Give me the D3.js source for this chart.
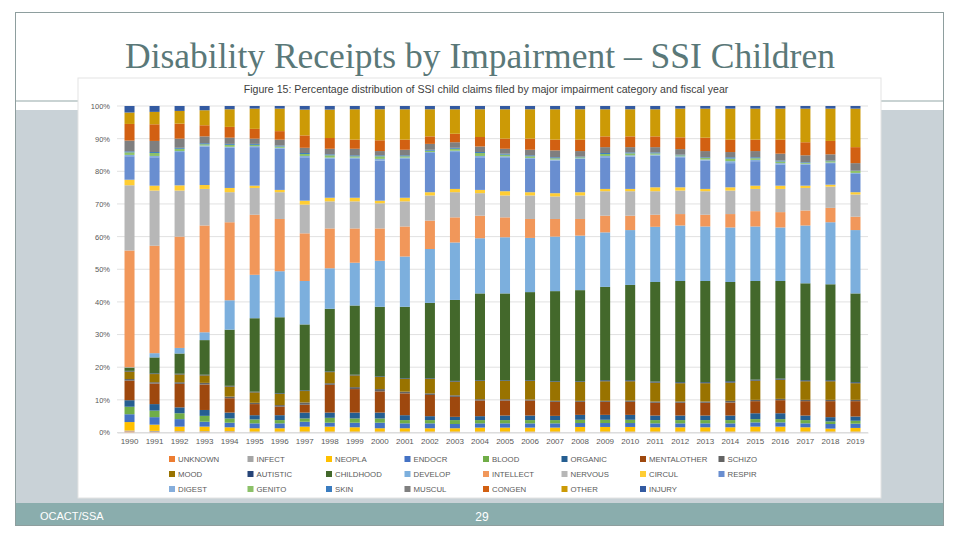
<!DOCTYPE html>
<html><head><meta charset="utf-8">
<script src="https://cdn.jsdelivr.net/npm/d3@7/dist/d3.min.js"></script>
<style>body{margin:0;background:#fff}svg{display:block}</style>
</head><body><svg id="c" width="960" height="540"></svg>
<script>
// ---------------- DATA ----------------
const years = ["1990","1991","1992","1993","1994","1995","1996","1997","1998","1999",
  "2000","2001","2002","2003","2004","2005","2006","2007","2008","2009",
  "2010","2011","2012","2013","2014","2015","2016","2017","2018","2019"];
const categories = ["UNKNOWN","INFECT","NEOPLA","ENDOCR","BLOOD","ORGANIC","MENTALOTHER","SCHIZO",
  "MOOD","AUTISTIC","CHILDHOOD","DEVELOP","INTELLECT","NERVOUS","CIRCUL","RESPIR",
  "DIGEST","GENITO","SKIN","MUSCUL","CONGEN","OTHER","INJURY"];
const UNKNOWN     = [0.3,0.2,0.2,0.2,0.2,0.1,0.1,0.1,0.1,0.1,0.1,0.1,0.1,0.1,0.1,0.1,0.1,0.1,0.1,0.1,0.1,0.1,0.1,0.1,0.1,0.1,0.1,0.1,0.1,0.1];
const INFECT      = [0.3,0.3,0.2,0.2,0.2,0.2,0.2,0.2,0.2,0.2,0.2,0.2,0.2,0.2,0.2,0.2,0.2,0.2,0.2,0.2,0.2,0.2,0.2,0.2,0.2,0.2,0.2,0.2,0.2,0.2];
const NEOPLA      = [2.6,1.9,1.4,1.4,1.2,1.0,1.0,1.5,1.5,1.3,1.0,1.0,1.0,1.0,1.2,1.2,1.2,1.2,1.4,1.4,1.4,1.3,1.3,1.3,1.3,1.5,1.5,1.3,0.9,1.1];
const ENDOCR      = [2.4,2.3,2.3,1.5,1.4,1.5,1.5,1.5,1.2,1.4,1.7,1.5,1.5,1.3,1.3,1.3,1.3,1.3,1.2,1.2,1.2,1.2,1.2,1.2,1.2,1.3,1.3,1.2,1.4,1.3];
const BLOOD       = [2.3,2.0,1.8,1.8,1.3,1.2,1.0,1.0,1.5,1.3,1.3,1.0,1.0,1.2,1.0,1.0,1.0,1.0,1.0,1.0,1.0,1.0,1.0,1.0,1.0,1.0,1.0,1.0,0.8,0.9];
const ORGANIC     = [2.0,2.0,1.8,1.8,1.8,1.3,1.5,1.8,1.6,1.8,1.8,1.5,1.2,1.0,1.2,1.4,1.4,1.3,1.5,1.5,1.5,1.4,1.4,1.4,1.4,1.8,1.8,1.4,1.3,1.3];
const MENTALOTHER = [6.0,6.3,7.2,7.8,4.4,3.4,2.6,2.4,8.5,7.2,6.5,6.7,6.5,6.1,4.8,4.6,4.6,4.3,4.0,4.0,4.0,3.9,3.9,3.9,4.0,3.7,4.0,4.4,4.9,4.7];
const SCHIZO      = [0.5,0.4,0.5,0.5,0.5,0.4,0.5,0.7,0.5,0.6,0.7,0.5,0.5,0.5,0.4,0.4,0.3,0.3,0.3,0.3,0.4,0.4,0.4,0.4,0.5,0.4,0.4,0.4,0.4,0.4];
const MOOD        = [2.3,2.5,2.4,2.3,3.1,3.2,3.4,3.5,3.4,3.6,3.7,3.9,4.4,4.2,5.6,5.6,5.7,5.8,5.8,6.0,5.9,5.8,5.6,5.6,5.6,5.9,5.9,5.7,5.7,5.1];
const AUTISTIC    = [0.2,0.2,0.2,0.2,0.2,0.2,0.2,0.2,0.2,0.2,0.2,0.2,0.2,0.2,0.2,0.2,0.2,0.2,0.2,0.3,0.3,0.3,0.3,0.3,0.4,0.3,0.3,0.3,0.3,0.3];
const CHILDHOOD   = [1.0,4.9,6.2,10.6,17.2,22.5,23.3,20.2,19.2,21.2,21.3,21.9,23.1,24.8,26.6,26.6,27.0,27.6,27.9,28.6,29.2,30.5,31.0,31.0,30.4,30.2,29.9,29.7,29.4,27.2];
const DEVELOP     = [0.1,1.3,1.7,2.4,9.0,13.3,14.1,13.3,12.4,13.1,14.1,15.4,16.5,17.6,16.9,17.2,16.6,16.7,16.7,16.7,16.8,16.9,17.0,16.7,16.7,16.7,16.4,17.7,19.0,19.4];
const INTELLECT   = [35.8,32.9,34.1,32.7,23.9,18.4,16.0,14.6,12.2,10.5,9.9,9.2,8.7,7.7,6.9,6.1,5.8,5.4,5.1,5.1,4.4,3.7,3.5,3.6,4.1,4.7,4.7,4.6,4.4,4.1];
const NERVOUS     = [20.0,16.9,14.1,11.2,9.2,8.2,8.2,8.8,8.3,8.3,7.7,7.7,7.7,7.7,6.9,6.7,7.2,6.9,7.2,7.5,7.5,7.2,7.2,7.2,7.2,6.8,7.1,6.9,6.5,6.8];
const CIRCUL      = [1.7,1.5,1.6,1.2,1.3,0.7,0.7,1.2,1.1,1.1,0.8,1.1,1.0,1.0,1.0,1.3,1.0,1.0,1.0,0.7,0.7,1.2,1.0,0.7,1.0,1.0,1.0,0.7,0.6,0.7];
const RESPIR      = [7.2,8.7,10.2,11.8,12.3,11.8,12.6,13.3,11.9,11.9,12.3,11.9,12.0,11.3,10.0,10.4,10.2,10.0,10.2,9.7,9.9,9.7,9.2,8.7,7.4,7.5,6.5,6.5,6.6,5.6];
const DIGEST      = [0.4,0.4,0.3,0.3,0.3,0.3,0.3,0.4,0.4,0.4,0.5,0.4,0.3,0.4,0.4,0.3,0.3,0.3,0.2,0.4,0.4,0.3,0.3,0.3,0.6,0.4,0.4,0.2,0.2,0.3];
const GENITO      = [0.8,0.9,0.7,0.4,0.6,0.4,0.4,0.6,0.7,0.4,0.8,0.4,0.4,0.6,0.9,0.5,0.5,0.4,0.3,0.6,0.6,0.4,0.3,0.5,0.8,0.5,0.5,0.3,0.4,0.6];
const SKIN        = [0.3,0.3,0.3,0.3,0.3,0.3,0.3,0.3,0.3,0.3,0.3,0.3,0.3,0.3,0.3,0.3,0.3,0.3,0.2,0.3,0.3,0.3,0.2,0.2,0.4,0.3,0.3,0.2,0.2,0.1];
const MUSCUL      = [3.3,3.4,2.8,2.1,1.9,1.6,1.8,1.6,1.7,2.0,1.3,1.7,1.8,1.7,1.7,1.5,1.7,2.1,1.7,1.8,1.6,1.6,1.7,1.9,1.6,1.9,2.1,2.1,1.9,2.3];
const CONGEN      = [5.1,5.1,4.6,3.4,3.3,3.0,2.6,3.8,3.3,2.8,3.3,3.1,2.3,2.6,2.9,3.1,3.4,3.3,3.5,3.3,3.3,3.3,3.6,4.1,3.8,3.5,4.3,4.0,4.1,4.9];
const OTHER       = [3.5,3.8,3.9,4.6,5.4,6.2,6.9,7.9,8.7,9.3,9.5,9.3,8.3,7.5,8.5,9.0,9.0,9.3,9.3,8.3,8.3,8.3,8.8,8.9,9.5,9.5,9.5,10.3,9.9,11.8];
const INJURY      = [2.0,1.8,1.5,1.3,1.0,0.8,0.8,1.1,1.1,1.0,1.0,1.0,1.0,1.0,1.0,1.0,1.0,1.0,1.0,1.0,1.0,1.0,0.8,0.8,0.8,0.8,0.8,0.8,0.8,0.8];
const yTickValues = [0,0.1,0.2,0.3,0.4,0.5,0.6,0.7,0.8,0.9,1.0];
const slideTitle = "Disability Receipts by Impairment – SSI Children";
const chartTitle = "Figure 15: Percentage distribution of SSI child claims filed by major impairment category and fiscal year";
const footerLeft = "OCACT/SSA";
const footerPage = "29";

const seriesValues = [UNKNOWN,INFECT,NEOPLA,ENDOCR,BLOOD,ORGANIC,MENTALOTHER,SCHIZO,MOOD,AUTISTIC,
  CHILDHOOD,DEVELOP,INTELLECT,NERVOUS,CIRCUL,RESPIR,DIGEST,GENITO,SKIN,MUSCUL,CONGEN,OTHER,INJURY];
const colors = ["#ED7D31","#A5A5A5","#FFC000","#4472C4","#70AD47","#255E91","#9E480E","#636363",
  "#997300","#264478","#43682B","#7CAFDD","#F1975A","#B7B7B7","#FFCD33","#698ED0",
  "#86AEDC","#8CC168","#3A7CC0","#7F7F7F","#D26012","#CC9A06","#335AA1"];

// ---------------- DRAW ----------------
const svg = d3.select("#c");

// slide background pieces
svg.append("rect").attr("x",15).attr("y",110).attr("width",929).attr("height",394).attr("fill","#C9D2D7");
svg.append("rect").attr("x",15).attr("y",503).attr("width",929).attr("height",23).attr("fill","#8AADAD");
svg.append("line").attr("x1",15).attr("x2",944).attr("y1",101).attr("y2",101).attr("stroke","#93A7A7").attr("stroke-width",1);
svg.append("rect").attr("x",15.5).attr("y",12.5).attr("width",928).attr("height",513).attr("fill","none").attr("stroke","#8E9E9E").attr("stroke-width",1);

svg.append("text").attr("x",480).attr("y",68).attr("text-anchor","middle")
  .attr("font-family","Liberation Serif, serif").attr("font-size",35.5).attr("fill","#5A7878")
  .text(slideTitle);

svg.append("text").attr("x",40).attr("y",520).attr("font-family","Liberation Sans, Arial, sans-serif")
  .attr("font-size",11).attr("fill","#ffffff").text(footerLeft);
svg.append("text").attr("x",482).attr("y",521).attr("text-anchor","middle").attr("font-family","Liberation Sans, Arial, sans-serif")
  .attr("font-size",12).attr("fill","#ffffff").text(footerPage);

// chart image panel
svg.append("rect").attr("x",78).attr("y",78).attr("width",803).attr("height",420).attr("fill","#ffffff")
  .attr("stroke","#E3E3E3").attr("stroke-width",1);

svg.append("text").attr("x",486).attr("y",93).attr("text-anchor","middle")
  .attr("font-family","Liberation Sans, Arial, sans-serif").attr("font-size",10.6).attr("fill","#404040")
  .text(chartTitle);

const margin = {left:117, right:868, top:106, bottom:432.5};
const x = d3.scaleBand().domain(years).range([margin.left, margin.right]).paddingInner(0.6).paddingOuter(0.3);
const y = d3.scaleLinear().domain([0,1]).range([margin.bottom, margin.top]);

// gridlines
svg.append("g").selectAll("line").data(yTickValues).join("line")
  .attr("x1",margin.left).attr("x2",margin.right)
  .attr("y1",d=>y(d)).attr("y2",d=>y(d))
  .attr("stroke","#D9D9D9").attr("stroke-width",0.8);

// y axis labels
const yAxis = d3.axisLeft(y).tickValues(yTickValues).tickFormat(d3.format(".0%")).tickSize(0).tickPadding(7);
const gy = svg.append("g").attr("transform",`translate(${margin.left},0)`).call(yAxis);
gy.select(".domain").remove();
gy.selectAll("text").attr("font-family","Liberation Sans, Arial, sans-serif").attr("font-size",7.5).attr("fill","#595959");

// stacked data
const table = years.map((yr,i)=>{
  const row = {year: yr};
  categories.forEach((c,j)=>{ row[c] = seriesValues[j][i]; });
  return row;
});
const stack = d3.stack().keys(categories).offset(d3.stackOffsetExpand);
const layers = stack(table);

svg.append("g").selectAll("g").data(layers).join("g")
  .attr("fill",(d,i)=>colors[i])
  .selectAll("rect").data(d=>d).join("rect")
  .attr("x",d=>x(d.data.year))
  .attr("width",x.bandwidth())
  .attr("y",d=>y(d[1]))
  .attr("height",d=>Math.max(0,y(d[0])-y(d[1])));

// x axis
const xAxis = d3.axisBottom(x).tickSize(0).tickPadding(6);
const gx = svg.append("g").attr("transform",`translate(0,${margin.bottom})`).call(xAxis);
gx.select(".domain").attr("stroke","#D9D9D9");
gx.selectAll("text").attr("font-family","Liberation Sans, Arial, sans-serif").attr("font-size",8).attr("fill","#595959");

// legend
const legendCols = 8, colW = 78.5, legX = 169, legY = 459, rowH = 15;
const leg = svg.append("g").selectAll("g").data(categories).join("g")
  .attr("transform",(d,i)=>`translate(${legX + (i%legendCols)*colW},${legY + Math.floor(i/legendCols)*rowH})`);
leg.append("rect").attr("x",0).attr("y",-3).attr("width",6).attr("height",6).attr("fill",(d,i)=>colors[i]);
leg.append("text").attr("x",9).attr("y",3).attr("font-family","Liberation Sans, Arial, sans-serif")
  .attr("font-size",7.8).attr("fill","#595959").text(d=>d);
</script>
</body></html>
